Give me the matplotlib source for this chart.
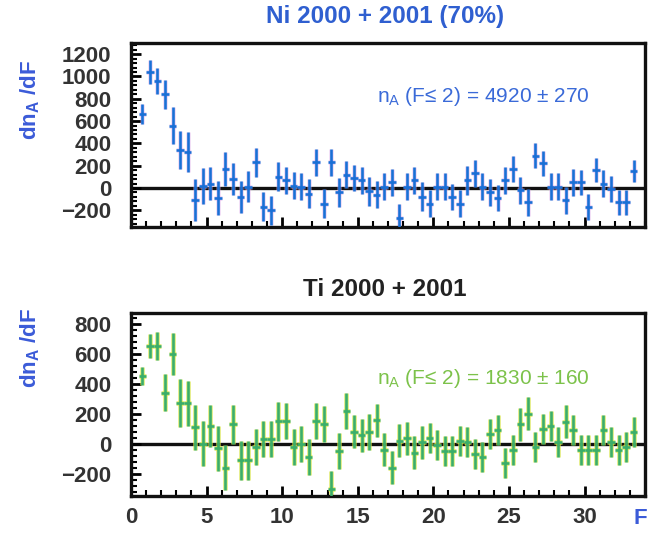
import matplotlib
matplotlib.use("Agg")
import matplotlib.pyplot as plt
from matplotlib.ticker import MultipleLocator

plt.rcParams['font.family'] = ['Liberation Sans', 'DejaVu Sans']

# Bin centres in F (bin width 0.5)
f_bins = [0.75, 1.25, 1.75, 2.25, 2.75, 3.25, 3.75, 4.25, 4.75, 5.25, 5.75,
          6.25, 6.75, 7.25, 7.75, 8.25, 8.75, 9.25, 9.75, 10.25, 10.75,
          11.25, 11.75, 12.25, 12.75, 13.25, 13.75, 14.25, 14.75, 15.25, 15.75,
          16.25, 16.75, 17.25, 17.75, 18.25, 18.75, 19.25, 19.75, 20.25, 20.75,
          21.25, 21.75, 22.25, 22.75, 23.25, 23.75, 24.25, 24.75, 25.25, 25.75,
          26.25, 26.75, 27.25, 27.75, 28.25, 28.75, 29.25, 29.75, 30.25, 30.75,
          31.25, 31.75, 32.25, 32.75, 33.25]

# Ni 2000 + 2001 (70%)
ni_vals = [660, 1040, 960, 840, 560, 340, 320, -110, 20, 40, -90,
           170, 80, -80, 10, 230, -170, -200, 100, 70, 20,
           10, -50, 230, -140, 230, -40, 120, 90, 70, -30,
           -60, 10, 50, -270, 10, 70, -80, -140, 10, 10,
           -80, -140, 70, 130, 10, -40, -90, 70, 170, -20,
           -130, 290, 220, 10, 10, -110, 50, 50, -170, 160,
           40, -10, -130, -130, 150]
ni_err = [90, 110, 120, 130, 170, 170, 180, 190, 160, 150, 150,
          150, 140, 140, 140, 130, 130, 130, 130, 120, 120,
          120, 130, 120, 130, 120, 130, 120, 120, 120, 130,
          120, 120, 120, 130, 120, 120, 130, 120, 120, 120,
          120, 120, 130, 120, 120, 120, 120, 120, 120, 120,
          120, 110, 110, 120, 120, 120, 120, 110, 120, 110,
          120, 120, 110, 110, 100]

# Ti 2000 + 2001
ti_vals = [450, 650, 650, 340, 600, 270, 270, 110, 0, 120, -30,
           -160, 130, -110, -110, -20, 30, 30, 150, 150, -20,
           0, -90, 150, 130, -300, -50, 215, 80, 55, 80,
           155, -40, -160, 20, 35, -60, 10, 35, -10, -50,
           -50, 20, 10, -70, -90, 65, 90, -130, -45, 130,
           200, -20, 100, 120, 10, 145, 90, -45, -45, -45,
           90, 10, -45, -20, 80]
ti_err = [60, 80, 95, 125, 140, 160, 150, 150, 150, 140, 150,
          150, 130, 130, 130, 120, 120, 120, 130, 120, 120,
          120, 120, 120, 120, 120, 120, 120, 110, 110, 120,
          110, 110, 110, 110, 110, 110, 110, 100, 100, 100,
          100, 100, 100, 100, 100, 100, 100, 100, 100, 110,
          110, 100, 100, 100, 100, 110, 100, 100, 100, 100,
          100, 100, 100, 100, 100]

half_bin = 0.25

W, H = 650, 533
fig = plt.figure(figsize=(W / 100, H / 100), dpi=100)
fig.patch.set_facecolor('white')


def px_axes(left, top, right, bottom):
    return fig.add_axes([left / W, 1 - bottom / H, (right - left) / W, (bottom - top) / H])


ax1 = px_axes(131, 43, 645, 227)
ax2 = px_axes(131, 313, 645, 496)

tick_color = '#333333'


def style_axes(ax, ylim, ymajor, show_xlabels):
    ax.set_xlim(0, 34)
    ax.set_ylim(*ylim)
    ax.yaxis.set_major_locator(MultipleLocator(ymajor))
    ax.yaxis.set_minor_locator(MultipleLocator(ymajor / 5))
    ax.xaxis.set_major_locator(MultipleLocator(5))
    ax.xaxis.set_minor_locator(MultipleLocator(1))
    ax.tick_params(axis='both', which='major', direction='in', length=7, width=2,
                   color='black', labelsize=16, labelcolor=tick_color)
    ax.tick_params(axis='both', which='minor', direction='in', length=4, width=1.5,
                   color='black')
    ax.tick_params(axis='y', pad=14)
    ax.tick_params(axis='x', pad=8, labelbottom=show_xlabels)
    for lab in ax.get_xticklabels() + ax.get_yticklabels():
        lab.set_fontweight('bold')
    for s in ax.spines.values():
        s.set_linewidth(2.4)
        s.set_color('#111111')
    ax.axhline(0, color='#111111', lw=2.4, zorder=1)


style_axes(ax1, (-350, 1300), 200, False)
style_axes(ax2, (-350, 870), 200, True)


def draw_series(ax, vals, errs, halo, core, halo_alpha):
    ax.errorbar(f_bins, vals, xerr=half_bin, yerr=errs, fmt='none',
                ecolor=halo, elinewidth=3.6, capsize=0, alpha=halo_alpha, zorder=2)
    ax.errorbar(f_bins, vals, xerr=half_bin, yerr=errs, fmt='none',
                ecolor=core, elinewidth=1.9, capsize=0, zorder=3)


draw_series(ax1, ni_vals, ni_err, '#d9a6e6', '#1a6fd6', 0.35)
draw_series(ax2, ti_vals, ti_err, '#d6e447', '#3aae6a', 0.6)

blue_text = '#2f5fd0'
fig.text(385 / W, 1 - 16 / H, 'Ni 2000 + 2001 (70%)', ha='center', va='center',
         fontsize=17.5, fontweight='bold', color=blue_text)
fig.text(385 / W, 1 - 289 / H, 'Ti 2000 + 2001', ha='center', va='center',
         fontsize=17.5, fontweight='bold', color='#222222')

ax1.text(0.478, 0.71, 'n$_\\mathregular{A}$ (F\u2264 2) = 4920 \u00b1 270',
         transform=ax1.transAxes, ha='left', va='center', fontsize=15, color='#3a6ad8')
ax2.text(0.478, 0.64, 'n$_\\mathregular{A}$ (F\u2264 2) = 1830 \u00b1 160',
         transform=ax2.transAxes, ha='left', va='center', fontsize=15, color='#7cc24a')

ylab = 'dn$_\\mathregular{A}$ /dF'
fig.text(30 / W, 1 - 100 / H, ylab, rotation=90, ha='center', va='center',
         fontsize=16, fontweight='bold', color='#3b5bd8')
fig.text(30 / W, 1 - 348 / H, ylab, rotation=90, ha='center', va='center',
         fontsize=16, fontweight='bold', color='#3b5bd8')
fig.text(640 / W, 1 - 519 / H, 'F', ha='center', va='center',
         fontsize=16, fontweight='bold', color='#3b5bd8')

fig.savefig('out.png', dpi=100, facecolor='white')
